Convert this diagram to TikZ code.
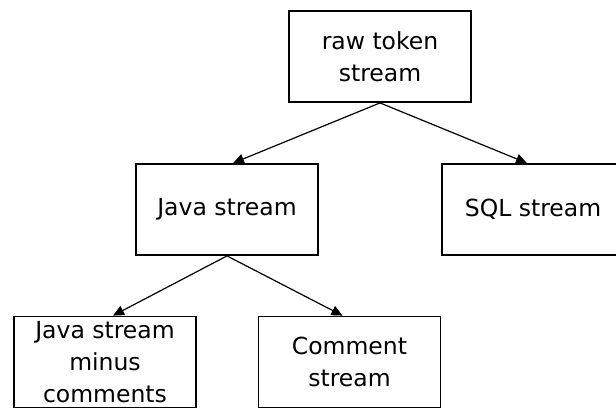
\documentclass[tikz,border=0pt]{standalone}
\usepackage{fontspec}
\setmainfont{DejaVu Sans}
\usetikzlibrary{arrows.meta}
\tikzset{
  box/.style={draw, line width=1.8pt, minimum width=182pt, minimum height=91pt,
    inner sep=0pt, align=center, font=\fontsize{23.5}{32}\selectfont},
  link/.style={line width=1.2pt, -{Triangle[length=11pt,width=10pt]}}
}
\begin{document}
\begin{tikzpicture}[x=1pt,y=-1pt]
        \useasboundingbox (0,0) rectangle (616,413);
        \node[box] (raw) at (380,56.5) {raw token\\stream};
        \node[box] (java) at (227,209.5) {Java stream};
        \node[box] (sql) at (533,209.5) {SQL stream};
        \node[box] (javanc) at (105,362) {Java stream\\minus\\comments};
        \node[box] (comment) at (349.5,362) {Comment\\stream};
        \draw[link] (raw.south) -- ([xshift=6pt]java.north);
        \draw[link] (raw.south) -- ([xshift=-6pt]sql.north);
        \draw[link] (java.south) -- ([xshift=8pt]javanc.north);
        \draw[link] (java.south) -- ([xshift=-7pt]comment.north);
        \end{tikzpicture}
\end{document}
